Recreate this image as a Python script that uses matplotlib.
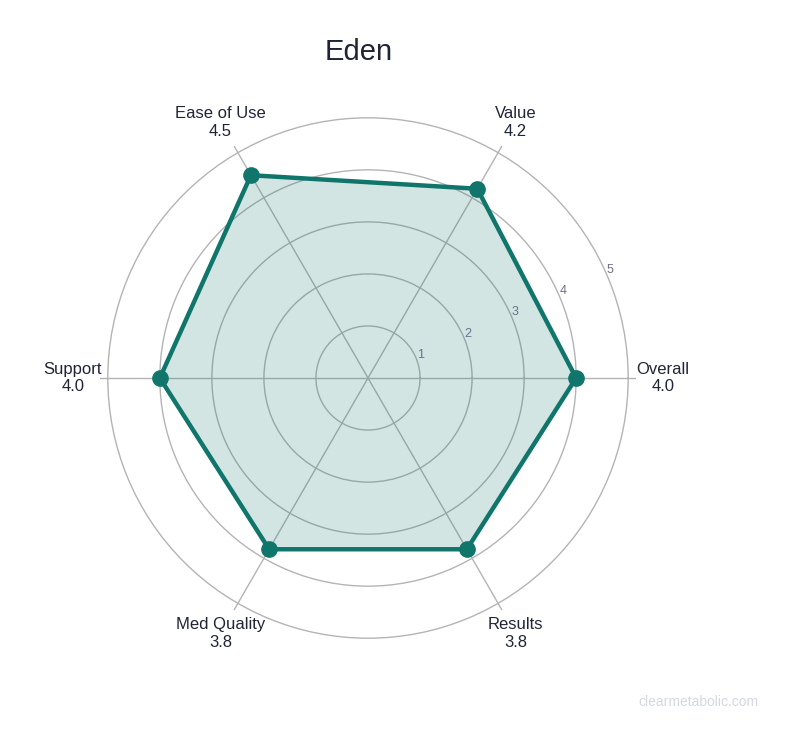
import matplotlib
matplotlib.use('Agg')
import matplotlib.pyplot as plt
import numpy as np

plt.rcParams['font.family'] = ['Liberation Sans', 'DejaVu Sans']

# data
title = "Eden"
categories = ["Overall", "Value", "Ease of Use", "Support", "Med Quality", "Results"]
scores = [4.0, 4.2, 4.5, 4.0, 3.8, 3.8]
rings = [1, 2, 3, 4, 5]

teal = "#10766c"
grid_c = "#b4b4b4"

fig = plt.figure(figsize=(8, 7.51), dpi=100, facecolor='w')
ax = fig.add_axes([0.125, 0.1398, 0.67, 0.7137], projection='polar')

n = len(categories)
theta = np.linspace(0, 2*np.pi, n, endpoint=False)
th = np.append(theta, theta[0])
vals = np.append(scores, scores[0])

ax.set_theta_zero_location('E')
ax.set_theta_direction(1)
ax.set_ylim(0, 5.15)
ax.set_yticks(rings)
ax.set_yticklabels([])
ax.set_xticks(theta)
ax.set_xticklabels([])
ax.grid(True, color=grid_c, lw=1.0)
ax.spines['polar'].set_visible(False)
ax.set_facecolor('none')

ax.fill(th, vals, color=teal, alpha=0.19, zorder=2)
ax.plot(th, vals, color=teal, lw=3.2, zorder=3)
ax.plot(theta, scores, 'o', color=teal, ms=11, zorder=4)

# radial tick labels
for r in rings:
    ax.text(np.deg2rad(24), r + 0.1, str(r), ha='center', va='center',
            fontsize=9, color='#6e6e8c')

# category labels
for t, c, s in zip(theta, categories, scores):
    ax.text(t, 5.67, c + "\n" + "%.1f" % s, ha='center', va='center',
            fontsize=12, color='#1f2535', linespacing=1.2)

fig.text(0.448, 0.931, title, ha='center', va='center', fontsize=21, color='#1e2433')
fig.text(0.873, 0.065, "clearmetabolic.com", ha='center', va='center',
         fontsize=10, color='#d3d8e2')

plt.savefig("out.png", dpi=100)
